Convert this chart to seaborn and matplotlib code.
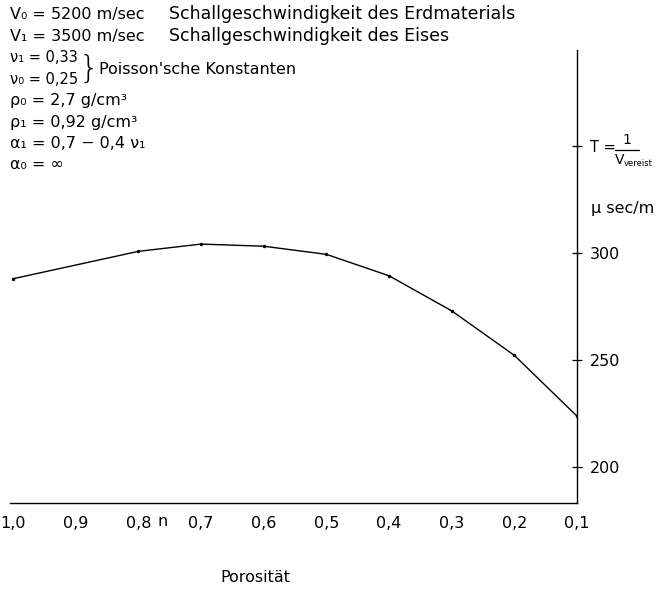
import matplotlib
matplotlib.use("Agg")
import matplotlib.pyplot as plt
import matplotlib.transforms as mtransforms
from matplotlib.lines import Line2D
import seaborn as sns
import pandas as pd

porosity = [1.0, 0.8, 0.7, 0.6, 0.5, 0.4, 0.3, 0.2, 0.1]
T_values = [288.0, 300.8, 304.2, 303.2, 299.4, 289.4, 273.0, 252.2, 223.8]
x_ticks = [1.0, 0.9, 0.8, 0.7, 0.6, 0.5, 0.4, 0.3, 0.2, 0.1]
x_labels = ["1,0", "0,9", "0,8", "0,7", "0,6", "0,5", "0,4", "0,3", "0,2", "0,1"]
y_ticks = [350, 300, 250, 200]
y_labels = ["T =", "300", "250", "200"]

sns.set_style("white")
plt.rcParams["font.family"] = ["DejaVu Sans"]
plt.rcParams["mathtext.fontset"] = "dejavusans"
plt.rcParams["text.color"] = "black"

FS = 11.5
W, H = 656, 590
fig = plt.figure(figsize=(W / 100, H / 100), dpi=100)
ax = fig.add_axes([9.9 / W, 87 / H, 567.1 / W, 453 / H])

df = pd.DataFrame({"n": porosity, "T": T_values})
sns.lineplot(data=df, x="n", y="T", ax=ax, color="black", linewidth=1.0,
             marker="o", markersize=2.5, markeredgewidth=0)

ax.set_xlim(1.005, 0.1)
ax.set_ylim(183.2, 394.9)
ax.set_xlabel("")
ax.set_ylabel("")

for s in ["left", "top"]:
    ax.spines[s].set_visible(False)
for s in ["right", "bottom"]:
    ax.spines[s].set_color("black")
    ax.spines[s].set_linewidth(1.0)

ax.yaxis.tick_right()
ax.set_yticks(y_ticks)
ax.set_yticklabels(y_labels, fontsize=FS)
ax.get_yticklabels()[0].set_fontsize(10.5)
ax.set_xticks(x_ticks)
ax.set_xticklabels(x_labels, fontsize=FS)
ax.tick_params(axis="y", direction="inout", length=7, width=0.9, pad=6, colors="black")
ax.tick_params(axis="x", direction="inout", length=6, width=0.9, pad=6, colors="black")

# fraction part of the T label
fig.text(627 / W, 1 - 140 / H, "1", fontsize=10, ha="center", va="center")
fig.add_artist(Line2D([615 / W, 639 / W], [1 - 150 / H, 1 - 150 / H],
                      color="black", linewidth=0.9))
fig.text(615 / W, 1 - 160 / H, "V", fontsize=10, ha="left", va="center")
fig.text(624 / W, 1 - 163 / H, "vereist", fontsize=6, ha="left", va="center")

trans = mtransforms.blended_transform_factory(ax.transAxes, ax.transData)
ax.text(1.024, 321, "µ sec/m", transform=trans, fontsize=FS, va="center", ha="left")

fig.text(163 / W, 1 - 521 / H, "n", fontsize=FS, ha="center", va="center")
fig.text(255 / W, 1 - 577 / H, "Porosität", fontsize=FS, ha="center", va="center")

lines = [
    (14, "V₀ = 5200 m/sec", FS),
    (36, "V₁ = 3500 m/sec", FS),
    (58, "ν₁ = 0,33", 10.5),
    (80, "ν₀ = 0,25", 10.5),
    (101, "ρ₀ = 2,7 g/cm³", FS),
    (122, "ρ₁ = 0,92 g/cm³", FS),
    (143, "α₁ = 0,7 − 0,4 ν₁", FS),
    (164, "α₀ = ∞", FS),
]
for y, t, fs in lines:
    fig.text(10 / W, 1 - y / H, t, fontsize=fs, ha="left", va="center")

fig.text(169 / W, 1 - 14 / H, "Schallgeschwindigkeit des Erdmaterials",
         fontsize=12.5, ha="left", va="center")
fig.text(169 / W, 1 - 36 / H, "Schallgeschwindigkeit des Eises",
         fontsize=12.5, ha="left", va="center")

fig.text(79 / W, 1 - 69 / H, "}", fontsize=23, ha="left", va="center", fontweight="light")
fig.text(99 / W, 1 - 69 / H, "Poisson'sche Konstanten", fontsize=11.5, ha="left", va="center")

fig.savefig("out.png", dpi=100, facecolor="white")
